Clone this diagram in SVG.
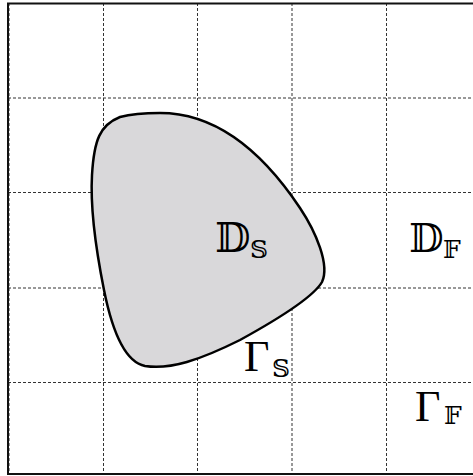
<svg xmlns="http://www.w3.org/2000/svg" width="473" height="476" viewBox="0 0 473 476">
<style>
.grid{stroke:#333;stroke-width:1;stroke-dasharray:3 2;fill:none}
.frame{stroke:#111;stroke-width:2;fill:none}
.blob{fill:#d9d8da;stroke:#000;stroke-width:2.5}
.big{font-family:"Liberation Serif","DejaVu Serif",serif;font-size:44px;fill:#000}
.ds{font-family:"DejaVu Serif","DejaVu Sans",serif;fill:#000}
.sub{font-family:"DejaVu Serif","DejaVu Sans",serif;font-size:25px}
</style>
<rect width="473" height="476" fill="#fff"/>
<g id="grid">
<line class="grid" x1="9" y1="3" x2="9" y2="474"/>
<line class="grid" x1="103.5" y1="3" x2="103.5" y2="474"/>
<line class="grid" x1="197.5" y1="3" x2="197.5" y2="474"/>
<line class="grid" x1="292" y1="3" x2="292" y2="474"/>
<line class="grid" x1="386.5" y1="3" x2="386.5" y2="474"/>
<line class="grid" x1="8" y1="98" x2="473" y2="98"/>
<line class="grid" x1="8" y1="192.5" x2="473" y2="192.5"/>
<line class="grid" x1="8" y1="288" x2="473" y2="288"/>
<line class="grid" x1="8" y1="382.5" x2="473" y2="382.5"/>
</g>
<g id="blob">
<path class="blob" d="M 160 113 C 222 113, 268 160, 300 208 C 316 232, 330 265, 322 282 C 314 296, 280 318, 240 340 C 200 360, 170 370, 145 366 C 125 362, 112 330, 104 290 C 96 250, 90 210, 92 175 C 94 140, 100 125, 120 117 C 135 113, 148 113, 160 113 Z"/>
</g>
<rect class="frame" x="8" y="3.5" width="475" height="470.5"/>
<g id="labels">
<text id="DS" class="ds" x="215" y="252" font-size="41">𝔻<tspan class="sub" x="250" y="258">𝕊</tspan></text>
<text id="DF" class="ds" x="409" y="252" font-size="40">𝔻<tspan class="sub" x="443" y="258">𝔽</tspan></text>
<text id="GS" class="big" x="244" y="371">Γ<tspan class="sub" x="272" y="377">𝕊</tspan></text>
<text id="GF" class="big" x="415" y="421">Γ<tspan class="sub" x="444" y="424">𝔽</tspan></text>
</g>
</svg>
